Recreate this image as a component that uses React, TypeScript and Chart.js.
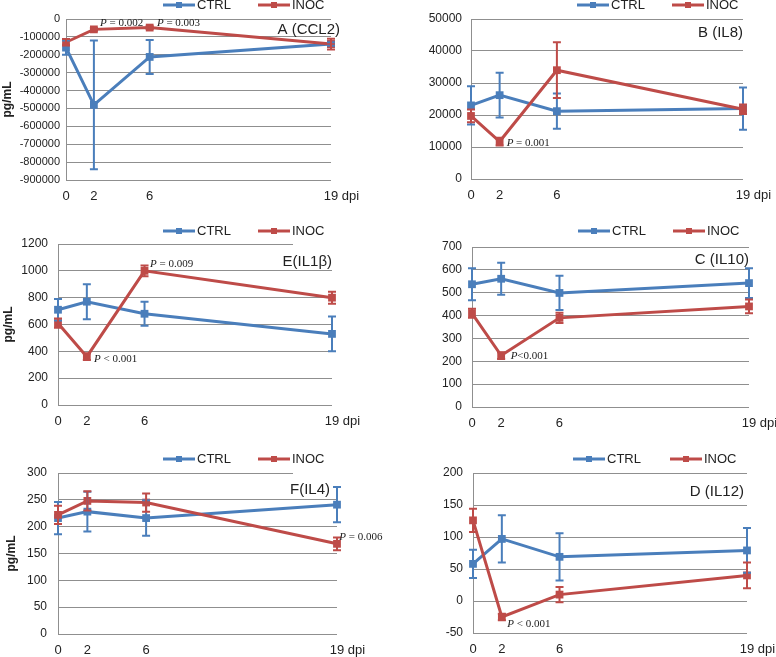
import React, { useEffect, useRef } from "react";
import { Chart, registerables } from "chart.js";

Chart.register(...registerables);
Chart.defaults.font.family = "'Liberation Sans', Arial, sans-serif";

// ---- data ----
const dpi = [0, 2, 6, 19];
const seriesNames = ["CTRL", "INOC"];

const ccl2Ctrl = [-160000, -480000, -212000, -140000];
const ccl2CtrlErr = [40000, 360000, 95000, 10000];
const ccl2Inoc = [-130000, -58000, -48000, -140000];
const ccl2InocErr = [18000, 8000, 8000, 30000];

const il8Ctrl = [23000, 26200, 21200, 22000];
const il8CtrlErr = [6000, 7000, 5500, 6600];
const il8Inoc = [19700, 11700, 34000, 21800];
const il8InocErr = [2000, 1200, 8700, 1500];

const il1bCtrl = [710, 770, 680, 530];
const il1bCtrlErr = [80, 130, 90, 130];
const il1bInoc = [610, 360, 1000, 800];
const il1bInocErr = [35, 25, 40, 45];

const il10Ctrl = [537, 561, 499, 542];
const il10CtrlErr = [70, 70, 75, 65];
const il10Inoc = [410, 225, 390, 440];
const il10InocErr = [20, 15, 22, 30];

const il4Ctrl = [216, 228, 216, 241];
const il4CtrlErr = [30, 37, 33, 33];
const il4Inoc = [222, 248, 245, 168];
const il4InocErr = [17, 18, 17, 12];

const il12Ctrl = [58, 97, 69, 79];
const il12CtrlErr = [22, 37, 37, 35];
const il12Inoc = [126, -25, 10, 40];
const il12InocErr = [18, 5, 12, 20];

const yTitle = "pg/mL";
const xUnit = "dpi";

// ---- styles ----
const BLUE = "#4a7ebb";
const RED = "#be4b48";
const GRID = "#8f8f8f";
const TEXT = "#222";
const SERIF = "'Liberation Serif', 'Times New Roman', serif";
const SANS = "'Liberation Sans', Arial, sans-serif";

type Note = { x: number; y: number; rest: string };
type PanelCfg = {
  title: string;
  ctrl: number[];
  ctrlErr: number[];
  inoc: number[];
  inocErr: number[];
  yMin: number;
  yMax: number;
  yStep: number;
  box: { x: number; y: number; w: number; h: number };
  area: { l: number; r: number; t: number; b: number };
  yFont: number;
  tickGap: number;
  yTitleX: number;
  legendY: number;
  legendX: number[];
  titleRight: number;
  titleY: number;
  titleBoxLeft?: number;
  notes: Note[];
};

const panels: PanelCfg[] = [
  {
    title: "A (CCL2)", ctrl: ccl2Ctrl, ctrlErr: ccl2CtrlErr, inoc: ccl2Inoc, inocErr: ccl2InocErr,
    yMin: -900000, yMax: 0, yStep: 100000,
    box: { x: 0, y: 0, w: 388, h: 205 }, area: { l: 66, r: 331, t: 19, b: 180 },
    yFont: 11, tickGap: 6, yTitleX: 8, legendY: 5, legendX: [163, 258],
    titleRight: 340, titleY: 30,
    notes: [
      { x: 2.44, y: -22500, rest: " = 0.002" },
      { x: 6.52, y: -22500, rest: " = 0.003" },
    ],
  },
  {
    title: "B (IL8)", ctrl: il8Ctrl, ctrlErr: il8CtrlErr, inoc: il8Inoc, inocErr: il8InocErr,
    yMin: 0, yMax: 50000, yStep: 10000,
    box: { x: 388, y: 0, w: 388, h: 205 }, area: { l: 471, r: 743, t: 19, b: 179 },
    yFont: 12, tickGap: 9, yTitleX: 28, legendY: 5, legendX: [577, 672],
    titleRight: 743, titleY: 33,
    notes: [{ x: 2.49, y: 11344, rest: " = 0.001" }],
  },
  {
    title: "E(IL1β)", ctrl: il1bCtrl, ctrlErr: il1bCtrlErr, inoc: il1bInoc, inocErr: il1bInocErr,
    yMin: 0, yMax: 1200, yStep: 200,
    box: { x: 0, y: 205, w: 388, h: 225 }, area: { l: 58, r: 332, t: 244, b: 405 },
    yFont: 12, tickGap: 10, yTitleX: 9, legendY: 231, legendX: [163, 258],
    titleRight: 332, titleY: 262, titleBoxLeft: 293,
    notes: [
      { x: 6.38, y: 1048, rest: " = 0.009" },
      { x: 2.5, y: 340, rest: " < 0.001" },
    ],
  },
  {
    title: "C (IL10)", ctrl: il10Ctrl, ctrlErr: il10CtrlErr, inoc: il10Inoc, inocErr: il10InocErr,
    yMin: 0, yMax: 700, yStep: 100,
    box: { x: 388, y: 205, w: 388, h: 225 }, area: { l: 472, r: 749, t: 247, b: 407 },
    yFont: 12, tickGap: 10, yTitleX: 36, legendY: 231, legendX: [578, 673],
    titleRight: 749, titleY: 260,
    notes: [{ x: 2.65, y: 224, rest: "<0.001" }],
  },
  {
    title: "F(IL4)", ctrl: il4Ctrl, ctrlErr: il4CtrlErr, inoc: il4Inoc, inocErr: il4InocErr,
    yMin: 0, yMax: 300, yStep: 50,
    box: { x: 0, y: 430, w: 388, h: 227 }, area: { l: 58, r: 337, t: 473, b: 634 },
    yFont: 12, tickGap: 11, yTitleX: 12, legendY: 459, legendX: [163, 258],
    titleRight: 330, titleY: 490, titleBoxLeft: 293,
    notes: [{ x: 19.16, y: 181.3, rest: " = 0.006" }],
  },
  {
    title: "D (IL12)", ctrl: il12Ctrl, ctrlErr: il12CtrlErr, inoc: il12Inoc, inocErr: il12InocErr,
    yMin: -50, yMax: 200, yStep: 50,
    box: { x: 388, y: 430, w: 388, h: 227 }, area: { l: 473, r: 747, t: 473, b: 633 },
    yFont: 12, tickGap: 10, yTitleX: 38, legendY: 459, legendX: [573, 670],
    titleRight: 744, titleY: 492,
    notes: [{ x: 2.38, y: -35.9, rest: " < 0.001" }],
  },
];

function makePlugin(p: PanelCfg) {
  const ox = p.box.x;
  const oy = p.box.y;
  return {
    id: "panelDecor",
    afterDatasetsDraw(chart: any) {
      const ctx = chart.ctx;
      const xs = chart.scales.x;
      const ys = chart.scales.y;
      const groups = [
        { v: p.ctrl, e: p.ctrlErr, c: BLUE },
        { v: p.inoc, e: p.inocErr, c: RED },
      ];
      ctx.save();
      groups.forEach((g) => {
        ctx.strokeStyle = g.c;
        ctx.lineWidth = 2;
        g.v.forEach((val, i) => {
          const px = xs.getPixelForValue(dpi[i]);
          const top = ys.getPixelForValue(val + g.e[i]);
          const bot = ys.getPixelForValue(val - g.e[i]);
          ctx.beginPath();
          ctx.moveTo(px, top);
          ctx.lineTo(px, bot);
          ctx.moveTo(px - 4, top);
          ctx.lineTo(px + 4, top);
          ctx.moveTo(px - 4, bot);
          ctx.lineTo(px + 4, bot);
          ctx.stroke();
        });
      });
      ctx.restore();
    },
    afterDraw(chart: any) {
      const ctx = chart.ctx;
      const xs = chart.scales.x;
      const ys = chart.scales.y;
      const ca = chart.chartArea;
      ctx.save();
      // title box + title
      if (p.titleBoxLeft !== undefined) {
        ctx.fillStyle = "#fff";
        ctx.fillRect(p.titleBoxLeft - ox, ca.top - 2, ca.right - (p.titleBoxLeft - ox) + 2, 5);
      }
      ctx.fillStyle = TEXT;
      ctx.font = `15px ${SANS}`;
      ctx.textAlign = "right";
      ctx.textBaseline = "middle";
      ctx.fillText(p.title, p.titleRight - ox, p.titleY - oy);

      // legend
      const colors = [BLUE, RED];
      seriesNames.forEach((name, i) => {
        const lx = p.legendX[i] - ox;
        const ly = p.legendY - oy;
        ctx.strokeStyle = colors[i];
        ctx.lineWidth = 3;
        ctx.beginPath();
        ctx.moveTo(lx, ly);
        ctx.lineTo(lx + 32, ly);
        ctx.stroke();
        ctx.fillStyle = colors[i];
        ctx.fillRect(lx + 16 - 3, ly - 3, 6, 6);
        ctx.fillStyle = TEXT;
        ctx.font = `13px ${SANS}`;
        ctx.textAlign = "left";
        ctx.textBaseline = "middle";
        ctx.fillText(name, lx + 34, ly);
      });

      // P annotations
      p.notes.forEach((n) => {
        const px = xs.getPixelForValue(n.x);
        const py = ys.getPixelForValue(n.y);
        ctx.fillStyle = TEXT;
        ctx.textAlign = "left";
        ctx.textBaseline = "middle";
        ctx.font = `italic 11px ${SERIF}`;
        ctx.fillText("P", px, py);
        const w = ctx.measureText("P").width;
        ctx.font = `11px ${SERIF}`;
        ctx.fillText(n.rest, px + w, py);
      });

      // "dpi" unit after last x tick
      const items = xs.getLabelItems ? xs.getLabelItems(ca) : [];
      if (items.length) {
        const last = items[items.length - 1];
        const [tx, ty] = last.options.translation;
        ctx.font = `13px ${SANS}`;
        const w = ctx.measureText(String(dpi[dpi.length - 1])).width;
        const sw = ctx.measureText(" ").width;
        ctx.fillStyle = TEXT;
        ctx.textAlign = "left";
        ctx.textBaseline = last.options.textBaseline || "top";
        ctx.fillText(xUnit, tx + w / 2 + sw, ty + (last.textOffset || 0));
      }
      ctx.restore();
    },
  };
}

function Panel({ p }: { p: PanelCfg }) {
  const ref = useRef<HTMLCanvasElement>(null);
  useEffect(() => {
    if (!ref.current) return;
    const padTop = p.area.t - p.box.y;
    const padRight = p.box.x + p.box.w - p.area.r;
    const yW = p.area.l - p.box.x;
    const xH = p.box.y + p.box.h - p.area.b;
    const mk = (label: string, vals: number[], color: string, order: number) => ({
      label,
      data: dpi.map((x, i) => ({ x, y: vals[i] })),
      borderColor: color,
      backgroundColor: color,
      borderWidth: 3,
      pointStyle: "rect",
      pointRadius: 5.5,
      pointBorderWidth: 0,
      pointBackgroundColor: color,
      tension: 0,
      clip: false as any,
      order,
    });
    const chart = new Chart(ref.current, {
      type: "line",
      data: {
        datasets: [
          mk(seriesNames[0], p.ctrl, BLUE, 1),
          mk(seriesNames[1], p.inoc, RED, 0),
        ] as any,
      },
      options: {
        animation: false,
        responsive: true,
        maintainAspectRatio: false,
        layout: { padding: { top: padTop, right: padRight, left: 0, bottom: 0 } },
        plugins: {
          legend: { display: false },
          tooltip: { enabled: false },
          title: { display: false },
        },
        scales: {
          x: {
            type: "linear",
            min: 0,
            max: 19,
            grid: { display: false, drawTicks: false },
            border: { display: false },
            afterBuildTicks: (s: any) => {
              s.ticks = dpi.map((v) => ({ value: v }));
            },
            afterFit: (s: any) => {
              s.height = xH;
              s.paddingLeft = 0;
              s.paddingRight = 0;
            },
            ticks: {
              autoSkip: false,
              maxRotation: 0,
              padding: 9,
              color: TEXT,
              font: { size: 13 },
              callback: (v: any) => String(v),
            },
          },
          y: {
            type: "linear",
            min: p.yMin,
            max: p.yMax,
            afterFit: (s: any) => {
              s.width = yW;
              s.paddingTop = 0;
              s.paddingBottom = 0;
            },
            ticks: {
              stepSize: p.yStep,
              padding: p.tickGap,
              color: TEXT,
              font: { size: p.yFont },
              callback: (v: any) => String(v),
            },
            grid: { color: GRID, lineWidth: 1, drawTicks: false },
            border: { display: true, color: GRID, width: 1 },
            title: {
              display: true,
              text: yTitle,
              color: TEXT,
              font: { size: 12, weight: "bold" },
              padding: { top: p.yTitleX - p.box.x - 7.2, bottom: 0 },
            },
          },
        } as any,
      },
      plugins: [makePlugin(p) as any],
    });
    return () => chart.destroy();
  }, [p]);
  return (
    <div
      style={{
        position: "absolute",
        left: p.box.x,
        top: p.box.y,
        width: p.box.w,
        height: p.box.h,
      }}
    >
      <canvas ref={ref} />
    </div>
  );
}

export default function App() {
  return (
    <div
      style={{
        position: "absolute",
        left: 0,
        top: 0,
        width: 776,
        height: 657,
        background: "#fff",
        overflow: "hidden",
      }}
    >
      {panels.map((p, i) => (
        <Panel key={i} p={p} />
      ))}
    </div>
  );
}
